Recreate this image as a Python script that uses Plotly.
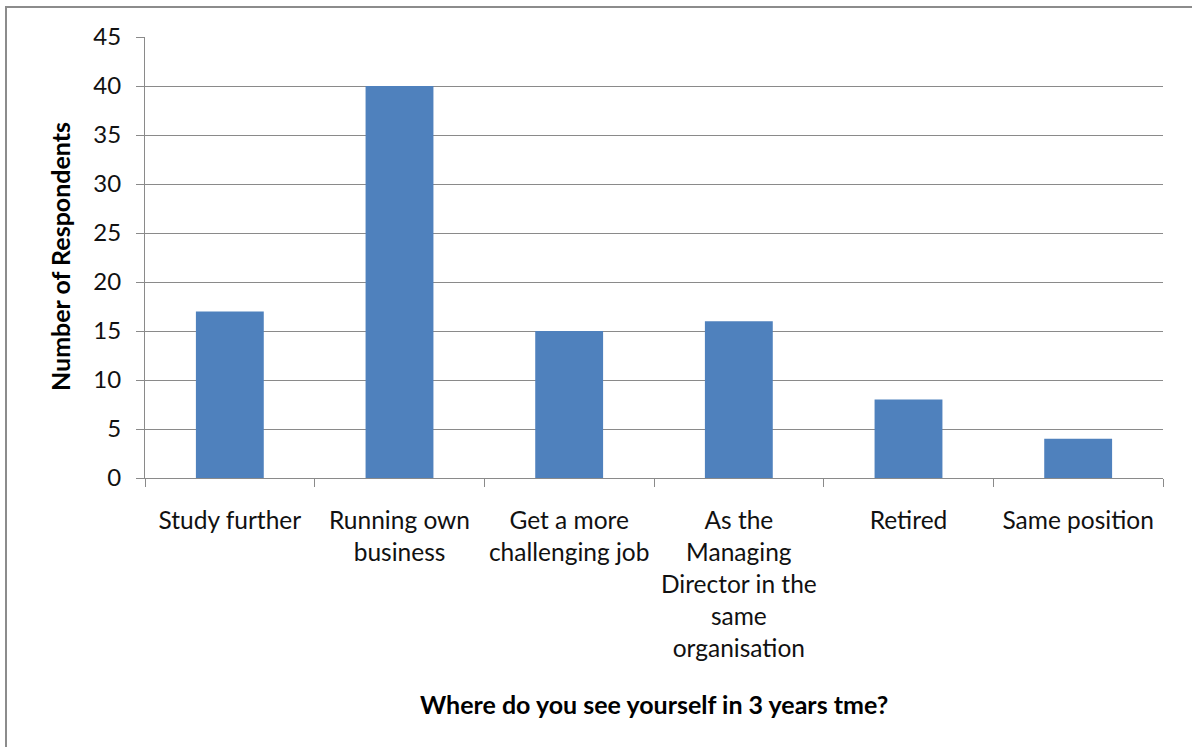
import plotly.graph_objects as go

# Survey responses: career outlook in three years
categories = [
    "Study further",
    "Running own<br>business",
    "Get a more<br>challenging job",
    "As the<br>Managing<br>Director in the<br>same<br>organisation",
    "Retired",
    "Same position",
]
respondents = [17, 40, 15, 16, 8, 4]
y_ticks = [0, 5, 10, 15, 20, 25, 30, 35, 40, 45]

W, H = 1192, 747
ML, MR, MT, MB = 145, 29, 37, 269
PW, PH = W - ML - MR, H - MT - MB

FONT = "Lato"
GRID = "#8a8a8a"
TEXT = "#111111"

fig = go.Figure(
    go.Bar(
        x=categories,
        y=respondents,
        marker=dict(color="#4F81BD", line=dict(width=0)),
        width=0.4,
    )
)


def px_x(px):
    return (px - ML) / PW


def px_y(py):
    return 1 - (py - MT) / PH


fig.update_layout(
    width=W,
    height=H,
    margin=dict(l=ML, r=MR, t=MT, b=MB),
    paper_bgcolor="white",
    plot_bgcolor="white",
    showlegend=False,
    font=dict(family=FONT, size=24, color=TEXT),
    xaxis=dict(
        type="category",
        showgrid=False,
        showline=True,
        linecolor=GRID,
        linewidth=1,
        ticks="outside",
        tickson="boundaries",
        ticklen=8,
        tickcolor=GRID,
        tickfont=dict(family=FONT, size=24.5, color=TEXT),
        ticklabelstandoff=21,
    ),
    yaxis=dict(
        range=[0, 45],
        tickvals=y_ticks,
        showgrid=True,
        gridcolor=GRID,
        gridwidth=1,
        showline=True,
        linecolor=GRID,
        linewidth=1,
        ticks="outside",
        ticklen=8,
        tickcolor=GRID,
        zeroline=False,
        tickfont=dict(family=FONT, size=24, color=TEXT),
        ticklabelstandoff=10,
    ),
    annotations=[
        dict(
            text="<b>Number of Respondents</b>",
            xref="paper", yref="paper",
            x=px_x(60), y=px_y(257),
            textangle=-90,
            showarrow=False,
            font=dict(family=FONT, size=25, color="#000000"),
            xanchor="center", yanchor="middle",
        ),
        dict(
            text="<b>Where do you see yourself in 3 years tme?</b>",
            xref="paper", yref="paper",
            x=px_x(654), y=px_y(704),
            showarrow=False,
            font=dict(family=FONT, size=25, color="#000000"),
            xanchor="center", yanchor="middle",
        ),
    ],
    shapes=[
        dict(
            type="rect",
            xref="paper", yref="paper",
            x0=px_x(6), x1=px_x(1200),
            y0=px_y(760), y1=px_y(7),
            line=dict(color="#8c8c8c", width=2),
            fillcolor="rgba(0,0,0,0)",
            layer="below",
        )
    ],
)

fig.write_html("out.html")
